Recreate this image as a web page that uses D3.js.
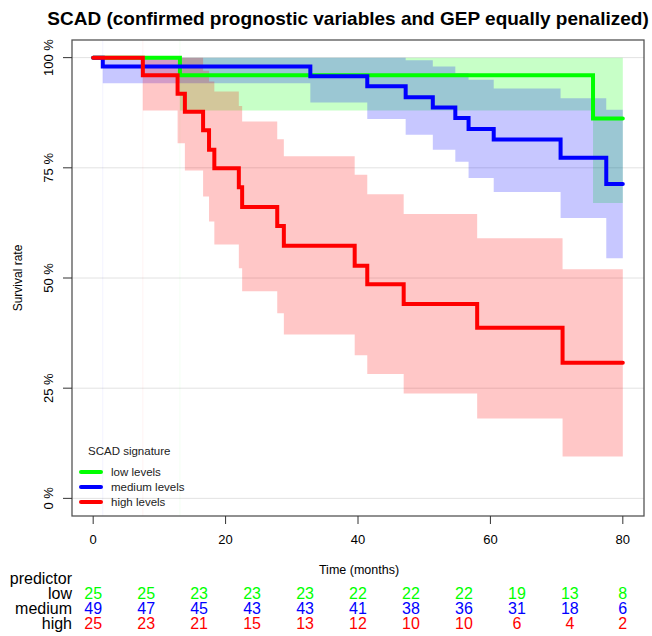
<!DOCTYPE html>
<html>
<head>
  <title>SCAD survival</title>
</head>
<style>
  body {
    margin: 0;
    background: white;
  }
  text {
    font-family: "Liberation Sans", Arial, sans-serif;
  }
</style>
<body>
  <script src="https://d3js.org/d3.v7.min.js"></script>
  <script>
    // survival curves (percent)
    const lowTime  = [0, 13.1, 75.5, 80];
    const lowSurv  = [100, 96, 86.2, 86.2];
    const lowLower = [100, 88, 67, 67];
    const lowUpper = [100, 100, 100, 100];

    const medTime  = [0, 1.45, 32.8, 41.4, 47.2, 51.3, 54.7, 56.7, 60.5, 70.6, 77.5, 80];
    const medSurv  = [100, 98, 95.75, 93.5, 91, 88.7, 86.3, 83.8, 81.4, 77.3, 71.3, 71.3];
    const medLower = [100, 94.2, 89.8, 86.1, 82.5, 79.1, 76.4, 72.7, 69.5, 63.6, 54.5, 54.5];
    const medUpper = [100, 100, 100, 100, 99.4, 98.0, 96.5, 95.0, 93.0, 90.8, 88.2, 88.2];

    const highTime  = [0, 7.5, 12.75, 13.85, 16.6, 17.5, 18.3, 22.0, 22.5, 27.8, 28.8, 39.5, 41.4, 46.9, 58.0, 70.9, 80];
    const highSurv  = [100, 96, 91.8, 87.7, 83.5, 79.1, 74.9, 70.6, 66.1, 61.8, 57.3, 52.8, 48.6, 44.1, 38.7, 30.75, 30.75];
    const highLower = [100, 88, 80.6, 74.4, 68.5, 62.8, 57.6, 52.2, 47.0, 42.0, 37.2, 32.5, 28.2, 23.8, 18.1, 9.5, 9.5];
    const highUpper = [100, 100, 100, 100, 97, 94.6, 92.3, 89.0, 85.5, 81.5, 77.6, 73.4, 69.0, 64.5, 59.0, 52.0, 52.0];

    const groupNames = ["low levels", "medium levels", "high levels"];
    const groupColors = ["#00ff00", "#0000ff", "#ff0000"];

    // numbers at risk
    const riskLabels = ["low", "medium", "high"];
    const riskTimes = [0, 8, 16, 24, 32, 40, 48, 56, 64, 72, 80];
    const riskLow  = [25, 25, 23, 23, 23, 22, 22, 22, 19, 13, 8];
    const riskMed  = [49, 47, 45, 43, 43, 41, 38, 36, 31, 18, 6];
    const riskHigh = [25, 23, 21, 15, 13, 12, 10, 10, 6, 4, 2];

    const xTicks = [0, 20, 40, 60, 80];
    const yTicks = [0, 25, 50, 75, 100];

    const w = 652;
    const h = 636;
    const box = {left: 72, right: 644, top: 40, bottom: 516};

    const x = d3.scaleLinear().domain([-3.2, 83.2]).range([box.left, box.right]);
    const y = d3.scaleLinear().domain([-4, 104]).range([box.bottom, box.top]);

    const groups = [
      {time: lowTime, surv: lowSurv, lower: lowLower, upper: lowUpper},
      {time: medTime, surv: medSurv, lower: medLower, upper: medUpper},
      {time: highTime, surv: highSurv, lower: highLower, upper: highUpper}
    ].map((g, i) => ({
      color: groupColors[i],
      pts: g.time.map((t, j) => ({t: t, s: g.surv[j], lo: g.lower[j], hi: g.upper[j]}))
    }));

    const svg = d3.select("body")
                  .append("svg")
                  .attr("width", w)
                  .attr("height", h)

    svg.append("text")
       .attr("x", 348)
       .attr("y", 25)
       .attr("text-anchor", "middle")
       .style("font-weight", "bold")
       .style("font-size", "19px")
       .text("SCAD (confirmed prognostic variables and GEP equally penalized)")

    const clip = svg.append("clipPath").attr("id", "clip")
    clip.append("rect")
        .attr("x", box.left).attr("y", box.top)
        .attr("width", box.right - box.left).attr("height", box.bottom - box.top)

    const plot = svg.append("g").attr("clip-path", "url(#clip)")

    // grid
    plot.selectAll("line.grid")
        .data(yTicks)
        .join("line")
        .attr("class", "grid")
        .attr("x1", box.left).attr("x2", box.right)
        .attr("y1", d => y(d)).attr("y2", d => y(d))
        .attr("stroke", "#e2e2e2")
        .attr("stroke-width", 1)

    // faint lines at first event of each group
    plot.selectAll("line.first")
        .data(groups)
        .join("line")
        .attr("class", "first")
        .attr("x1", d => x(d.pts[1].t)).attr("x2", d => x(d.pts[1].t))
        .attr("y1", box.top).attr("y2", box.bottom)
        .attr("stroke", d => d.color)
        .attr("stroke-opacity", 0.05)

    // confidence bands
    const band = d3.area()
                   .curve(d3.curveStepAfter)
                   .x(d => x(d.t))
                   .y0(d => y(d.lo))
                   .y1(d => y(d.hi))

    plot.selectAll("path.band")
        .data(groups)
        .join("path")
        .attr("class", "band")
        .attr("d", d => band(d.pts))
        .attr("fill", d => d.color)
        .attr("fill-opacity", 0.22)

    const line = d3.line()
                   .curve(d3.curveStepAfter)
                   .x(d => x(d.t))
                   .y(d => y(d.s))

    plot.selectAll("path.surv")
        .data(groups)
        .join("path")
        .attr("class", "surv")
        .attr("d", d => line(d.pts))
        .attr("fill", "none")
        .attr("stroke", d => d.color)
        .attr("stroke-width", 4)
        .attr("stroke-linecap", "round")
        .attr("stroke-linejoin", "miter")

    // legend
    const leg = svg.append("g")
    leg.append("text")
       .attr("x", 88).attr("y", 455)
       .style("font-size", "11.5px")
       .attr("fill", "#222")
       .text("SCAD signature")
    groupNames.forEach((n, i) => {
      leg.append("line")
         .attr("x1", 81).attr("x2", 101)
         .attr("y1", 472 + i * 15).attr("y2", 472 + i * 15)
         .attr("stroke", groupColors[i])
         .attr("stroke-width", 4)
         .attr("stroke-linecap", "round")
      leg.append("text")
         .attr("x", 111).attr("y", 476 + i * 15)
         .style("font-size", "11.5px")
         .attr("fill", "#222")
         .text(n)
    })

    // box
    svg.append("rect")
       .attr("x", box.left).attr("y", box.top)
       .attr("width", box.right - box.left).attr("height", box.bottom - box.top)
       .attr("fill", "none")
       .attr("stroke", "#555")
       .attr("stroke-width", 1.3)

    // axes
    const xAxis = svg.append("g")
    xAxis.selectAll("line")
         .data(xTicks)
         .join("line")
         .attr("x1", d => x(d)).attr("x2", d => x(d))
         .attr("y1", box.bottom).attr("y2", box.bottom + 8)
         .attr("stroke", "#333")
    xAxis.selectAll("text")
         .data(xTicks)
         .join("text")
         .attr("x", d => x(d)).attr("y", 544)
         .attr("text-anchor", "middle")
         .style("font-size", "13px")
         .text(d => d)

    const yAxis = svg.append("g")
    yAxis.selectAll("line")
         .data(yTicks)
         .join("line")
         .attr("x1", box.left - 9).attr("x2", box.left)
         .attr("y1", d => y(d)).attr("y2", d => y(d))
         .attr("stroke", "#333")
    yAxis.selectAll("text")
         .data(yTicks)
         .join("text")
         .attr("transform", d => "translate(53," + y(d) + ") rotate(-90)")
         .attr("text-anchor", "middle")
         .style("font-size", "13px")
         .text(d => d + " %")

    svg.append("text")
       .attr("transform", "translate(22," + y(50) + ") rotate(-90)")
       .attr("text-anchor", "middle")
       .style("font-size", "12px")
       .text("Survival rate")

    svg.append("text")
       .attr("x", 359).attr("y", 574)
       .attr("text-anchor", "middle")
       .style("font-size", "12.5px")
       .text("Time (months)")

    // risk table
    const tbl = svg.append("g")
    tbl.append("text")
       .attr("x", 72).attr("y", 583.5)
       .attr("text-anchor", "end")
       .style("font-size", "16px")
       .text("predictor")
    const riskRows = [riskLow, riskMed, riskHigh];
    riskRows.forEach((row, i) => {
      tbl.append("text")
         .attr("x", 72).attr("y", 599 + i * 15)
         .attr("text-anchor", "end")
         .style("font-size", "16px")
         .text(riskLabels[i])
      tbl.selectAll("text.r" + i)
         .data(row)
         .join("text")
         .attr("class", "r" + i)
         .attr("x", (d, j) => x(riskTimes[j]))
         .attr("y", 599 + i * 15)
         .attr("text-anchor", "middle")
         .style("font-size", "16px")
         .attr("fill", groupColors[i])
         .text(d => d)
    })
  </script>
</body>
</html>
